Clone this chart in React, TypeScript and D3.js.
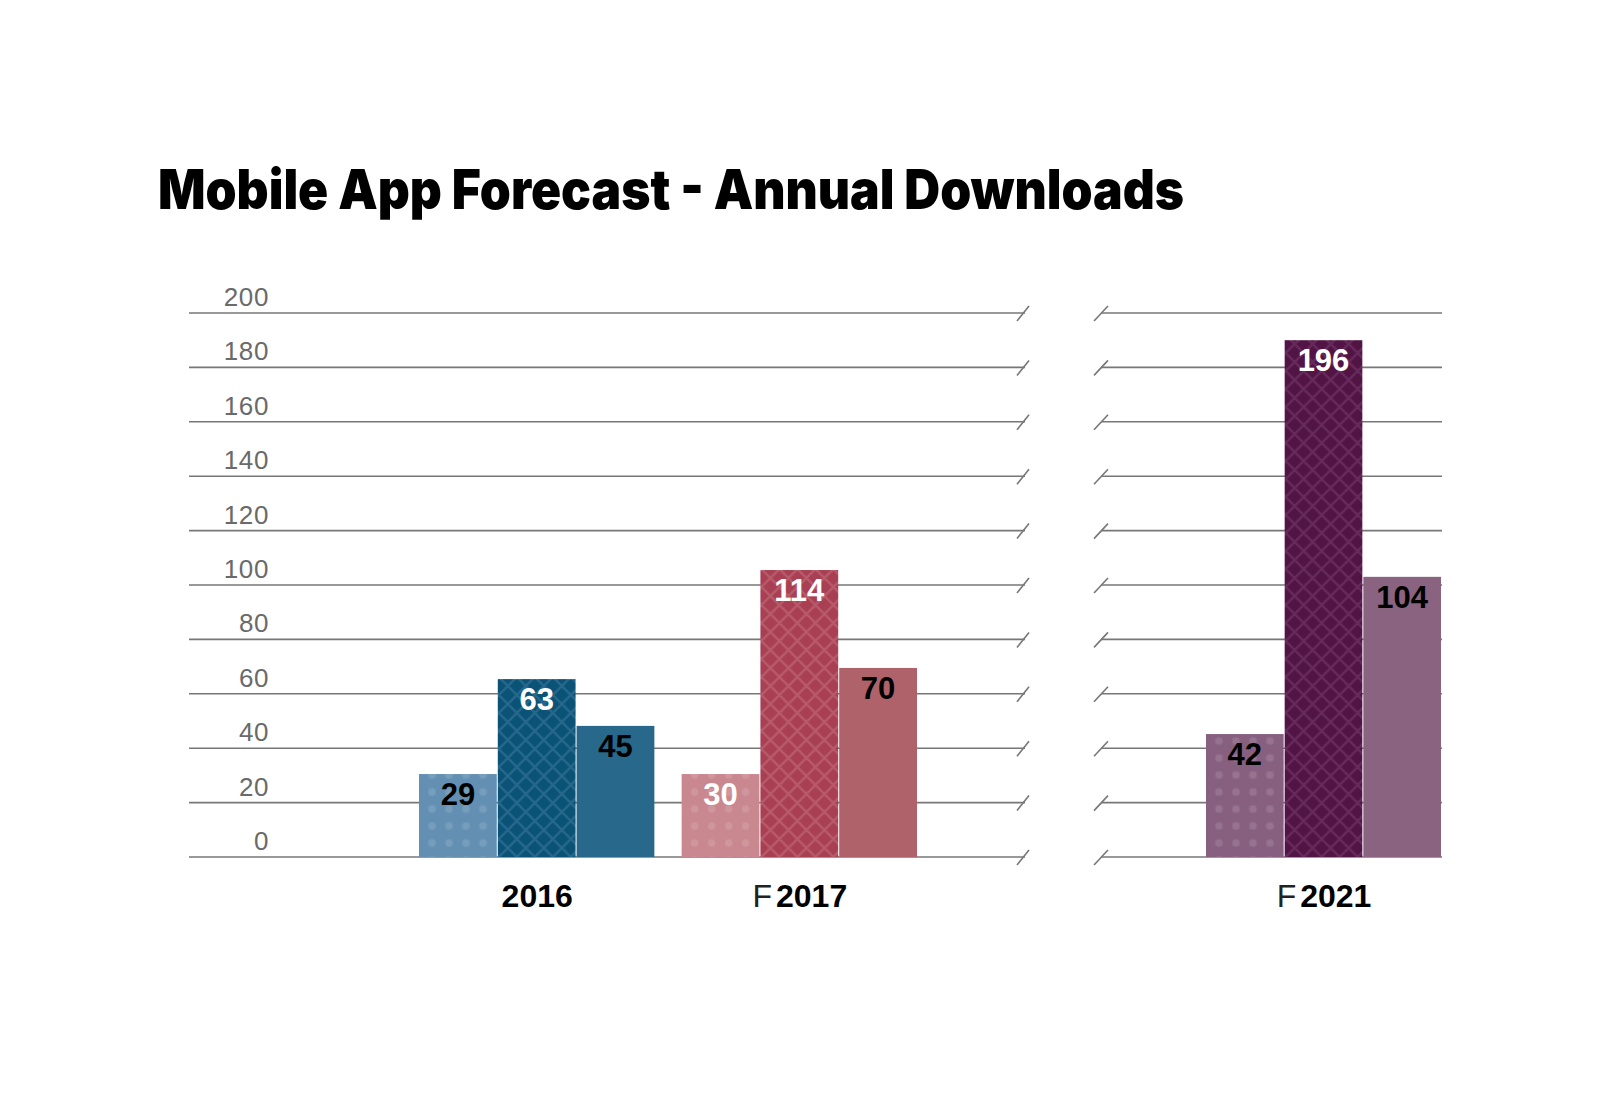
import React from "react";
import * as d3 from "d3";

// ---- data ----
const leftGroups = ["2016", "F2017"];
const rightGroups = ["F2021"];
const groupPrefix: Record<string, string> = { "2016": "", F2017: "F", F2021: "F" };
const groupYear: Record<string, string> = { "2016": "2016", F2017: "2017", F2021: "2021" };

// value labels printed on the bars
const labels2016 = [29, 63, 45];
const labelsF2017 = [30, 114, 70];
const labelsF2021 = [42, 196, 104];
// bar heights as drawn in the picture (axis units)
const heights2016 = [30.5, 65.4, 48.2];
const heightsF2017 = [30.5, 105.5, 69.5];
const heightsF2021 = [45.2, 190, 103];

const yTicks = [0, 20, 40, 60, 80, 100, 120, 140, 160, 180, 200];

const colors2016 = ["#6390b2", "#0b5277", "#27688b"];
const colorsF2017 = ["#c9878f", "#a83f52", "#b0626a"];
const colorsF2021 = ["#876080", "#511444", "#89637f"];
const hatch2016 = "#25688b";
const hatchF2017 = "#b85a69";
const hatchF2021 = "#66295c";
const labelColors2016 = ["#000", "#fff", "#000"];
const labelColorsF2017 = ["#fff", "#fff", "#000"];
const labelColorsF2021 = ["#000", "#fff", "#000"];

const groupData: Record<string, { labels: number[]; heights: number[]; colors: string[]; hatch: string; text: string[] }> = {
  "2016": { labels: labels2016, heights: heights2016, colors: colors2016, hatch: hatch2016, text: labelColors2016 },
  F2017: { labels: labelsF2017, heights: heightsF2017, colors: colorsF2017, hatch: hatchF2017, text: labelColorsF2017 },
  F2021: { labels: labelsF2021, heights: heightsF2021, colors: colorsF2021, hatch: hatchF2021, text: labelColorsF2021 },
};

export default function App() {
  const W = 1600;
  const H = 1096;
  const y = d3.scaleLinear().domain([0, 200]).range([857, 313]);
  const xLeft = d3.scaleBand<string>().domain(leftGroups).range([419, 918]).paddingInner(0.1).paddingOuter(0);
  const xRight = d3.scaleBand<string>().domain(rightGroups).range([1206, 1442]).paddingInner(0).paddingOuter(0);

  const leftGrid = [189, 1025];
  const rightGrid = [1101, 1442];
  const gridColor = "#777";
  const font = "'Liberation Sans', Arial, Helvetica, sans-serif";
  const P = 18; // hatch period

  const renderGroup = (g: string, xs: d3.ScaleBand<string>) => {
    const gx = xs(g)!;
    const bw = xs.bandwidth();
    const inner = d3.scaleBand<number>().domain([0, 1, 2]).range([0, bw]).padding(0);
    const d = groupData[g];
    return (
      <g key={g}>
        {d.heights.map((h, i) => {
          const bx = gx + inner(i)!;
          const by = y(h);
          const w = inner.bandwidth() - 1;
          const pid = `pat-${g}-${i}`;
          return (
            <g key={i}>
              {i === 0 && (
                <defs>
                  <pattern id={pid} patternUnits="userSpaceOnUse" width={17} height={17} x={bx + 4.5} y={y(0) - 22.5}>
                    <rect width={17} height={17} fill={d.colors[0]} />
                    <circle cx={8.5} cy={8.5} r={3.8} fill="#fff" opacity={0.12} />
                  </pattern>
                </defs>
              )}
              {i === 1 && (
                <defs>
                  <pattern id={pid} patternUnits="userSpaceOnUse" width={P} height={P} x={bx + 1} y={y(0)}>
                    <rect width={P} height={P} fill={d.colors[1]} />
                    <path d={`M-2,-2 L${P + 2},${P + 2} M${P + 2},-2 L-2,${P + 2}`} stroke={d.hatch} strokeWidth={2.4} />
                  </pattern>
                </defs>
              )}
              <rect
                x={bx}
                y={by}
                width={w}
                height={y(0) - by}
                fill={i === 2 ? d.colors[2] : `url(#${pid})`}
              />
              <text
                x={bx + w / 2}
                y={by + 31}
                textAnchor="middle"
                fontFamily={font}
                fontWeight="bold"
                fontSize={31}
                fill={d.text[i]}
              >
                {d.labels[i]}
              </text>
            </g>
          );
        })}
        <text x={gx + bw / 2} y={907} textAnchor="middle" fontFamily={font} fontSize={32} fill="#000">
          {groupPrefix[g] && <tspan fontWeight="normal" fill="#222">{groupPrefix[g]}</tspan>}
          <tspan fontWeight="bold" dx={groupPrefix[g] ? 4 : 0}>{groupYear[g]}</tspan>
        </text>
      </g>
    );
  };

  return (
    <svg width={W} height={H} style={{ position: "absolute", left: 0, top: 0, background: "#fff" }}>
      <rect width={W} height={H} fill="#fff" />
      <text
        x={158}
        y={209}
        fontFamily="Inter, 'Noto Sans', sans-serif"
        fontWeight={900}
        fontSize={55}
        textLength={1026}
        lengthAdjust="spacingAndGlyphs"
        fill="#000"
      >
        Mobile App Forecast - Annual Downloads
      </text>

      {/* grid lines */}
      {yTicks.map((t) => (
        <g key={t}>
          <line x1={leftGrid[0]} x2={leftGrid[1]} y1={y(t)} y2={y(t)} stroke={gridColor} strokeWidth={1.6} />
          <line x1={leftGrid[1] - 8} y1={y(t) + 8} x2={leftGrid[1] + 4} y2={y(t) - 7} stroke={gridColor} strokeWidth={1.6} />
          <line x1={rightGrid[0]} x2={rightGrid[1]} y1={y(t)} y2={y(t)} stroke={gridColor} strokeWidth={1.6} />
          <line x1={rightGrid[0] - 7} y1={y(t) + 8} x2={rightGrid[0] + 7} y2={y(t) - 7} stroke={gridColor} strokeWidth={1.6} />
          <text x={269} y={y(t) - 7} textAnchor="end" fontFamily={font} fontSize={26} letterSpacing={0.6} fill="#6a6a6a">
            {t}
          </text>
        </g>
      ))}

      {leftGroups.map((g) => renderGroup(g, xLeft))}
      {rightGroups.map((g) => renderGroup(g, xRight))}
    </svg>
  );
}
